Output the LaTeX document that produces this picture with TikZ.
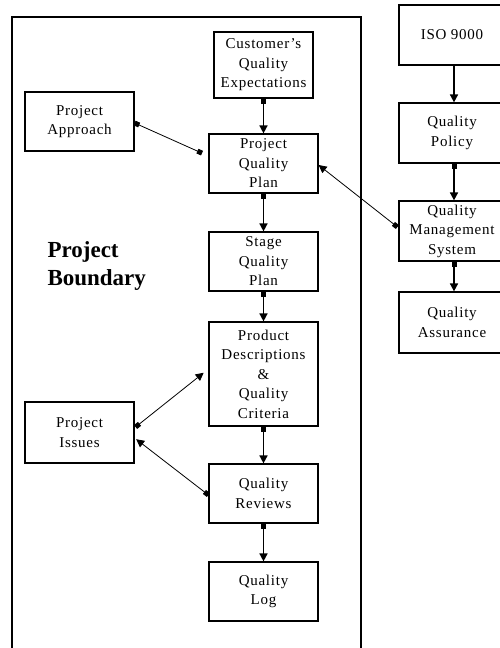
\documentclass[tikz,border=0pt]{standalone}
\usepackage{fontspec}
\setmainfont{Liberation Serif}
\newfontfamily\boxfont[LetterSpace=5]{Liberation Serif}
\usetikzlibrary{arrows.meta}
\begin{document}
\begin{tikzpicture}[x=1pt,y=-1pt,
  box/.style={draw,line width=1.2pt,rectangle,align=center,inner sep=0pt,
    minimum width=109pt,minimum height=59pt,
    font=\boxfont\fontsize{15}{19.5}\selectfont},
  rbox/.style={box,minimum width=106pt,minimum height=60pt},
  flow/.style={line width=1.6pt,
    {Square[length=5pt,width=5pt]}-{Triangle[length=8pt,width=8pt]}},
  plain/.style={line width=1.6pt,-{Triangle[length=8pt,width=8pt]}},
  link/.style={line width=0.8pt,
    {Square[length=5pt,width=5pt]}-{Triangle[length=8pt,width=8pt]}},
  linksq/.style={line width=0.8pt,
    {Square[length=5pt,width=5pt]}-{Square[length=5pt,width=5pt]}}]
\useasboundingbox (0,0) rectangle (500,648);
\clip (0,0) rectangle (500,648);
\fill[white] (0,0) rectangle (500,648);

% project boundary
\draw[line width=1.3pt] (12,660) |- (361,17) -- (361,660);
\node[anchor=west,align=left,font=\bfseries\fontsize{23}{28}\selectfont]
  (boundary) at (44,266) {Project\\Boundary};

% boxes inside the project
\node[box,minimum width=99pt,minimum height=66pt] (cust) at (263.5,65)
  {Customer’s\\Quality\\Expectations};
\node[box] (appr) at (79.5,121.5) {Project\\Approach};
\node[box] (pqp) at (263.5,163.5) {Project\\Quality\\Plan};
\node[box] (sqp) at (263.5,261.5) {Stage\\Quality\\Plan};
\node[box,minimum height=104pt] (pd) at (263.5,374)
  {Product\\Descriptions\\\&\\Quality\\Criteria};
\node[box,minimum height=61pt] (iss) at (79.5,432.5) {Project\\Issues};
\node[box] (qr) at (263.5,493.5) {Quality\\Reviews};
\node[box] (ql) at (263.5,591.5) {Quality\\Log};

% quality system boxes
\node[rbox] (iso) at (452,35) {ISO 9000};
\node[rbox] (qp) at (452,133) {Quality\\Policy};
\node[rbox] (qms) at (452,231) {Quality\\Management\\System};
\node[rbox,minimum height=61pt] (qa) at (452,322.5) {Quality\\Assurance};

% vertical flow
\draw[flow] (cust.south) -- (pqp.north);
\draw[flow] (pqp.south) -- (sqp.north);
\draw[flow] (sqp.south) -- (pd.north);
\draw[flow] (pd.south) -- (qr.north);
\draw[flow] (qr.south) -- (ql.north);
\draw[plain] ([xshift=2pt]iso.south) -- ([xshift=2pt]qp.north);
\draw[flow] ([xshift=2pt]qp.south) -- ([xshift=2pt]qms.north);
\draw[flow] ([xshift=2pt]qms.south) -- ([xshift=2pt]qa.north);

% cross links
\draw[linksq,shorten >=7pt] ([yshift=-1.5pt]appr.east) -- ([yshift=7.5pt]pqp.west);
\draw[link] ([xshift=-1pt,yshift=4pt]qms.west) -- ([yshift=-1.5pt]pqp.east);
\draw[link,shorten >=6pt] ([xshift=1pt,yshift=5.5pt]iss.east) -- ([yshift=5pt]pd.west);
\draw[link,shorten >=2pt] ([yshift=-1.5pt]qr.west) -- ([yshift=-5.5pt]iss.east);
\end{tikzpicture}
\end{document}
